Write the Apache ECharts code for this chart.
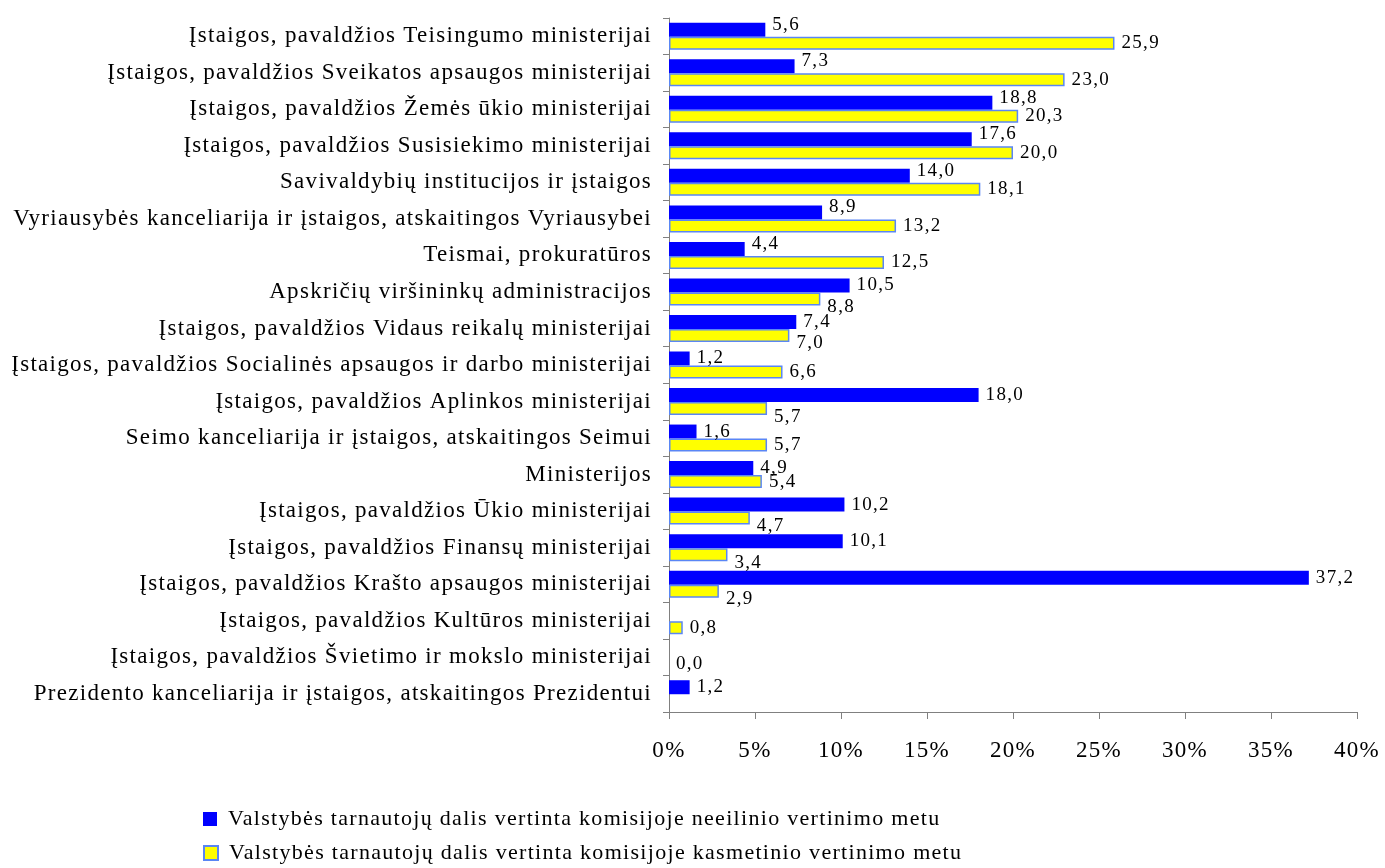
<!DOCTYPE html>
<html>
<head>
<meta charset="utf-8">
<script src="https://cdn.jsdelivr.net/npm/echarts@6/dist/echarts.min.js"></script>
<style>
  html, body { margin: 0; padding: 0; background: #fff; }
  #chart { width: 1385px; height: 868px; }
</style>
</head>
<body>
<div id="chart"></div>
<script>
// categories, top to bottom as in the picture
const categories = [
  'Įstaigos, pavaldžios Teisingumo ministerijai',
  'Įstaigos, pavaldžios Sveikatos apsaugos ministerijai',
  'Įstaigos, pavaldžios Žemės ūkio ministerijai',
  'Įstaigos, pavaldžios Susisiekimo ministerijai',
  'Savivaldybių institucijos ir įstaigos',
  'Vyriausybės kanceliarija ir įstaigos, atskaitingos Vyriausybei',
  'Teismai, prokuratūros',
  'Apskričių viršininkų administracijos',
  'Įstaigos, pavaldžios Vidaus reikalų ministerijai',
  'Įstaigos, pavaldžios Socialinės apsaugos ir darbo ministerijai',
  'Įstaigos, pavaldžios Aplinkos ministerijai',
  'Seimo kanceliarija ir įstaigos, atskaitingos Seimui',
  'Ministerijos',
  'Įstaigos, pavaldžios Ūkio ministerijai',
  'Įstaigos, pavaldžios Finansų ministerijai',
  'Įstaigos, pavaldžios Krašto apsaugos ministerijai',
  'Įstaigos, pavaldžios Kultūros ministerijai',
  'Įstaigos, pavaldžios Švietimo ir mokslo ministerijai',
  'Prezidento kanceliarija ir įstaigos, atskaitingos Prezidentui',
]

// neeilinio vertinimo metu (mėlyna)
const extraordinary = [5.6, 7.3, 18.8, 17.6, 14.0, 8.9, 4.4, 10.5, 7.4, 1.2, 18.0, 1.6, 4.9, 10.2, 10.1, 37.2, null, null, 1.2]
// kasmetinio vertinimo metu (geltona)
const annual = [25.9, 23.0, 20.3, 20.0, 18.1, 13.2, 12.5, 8.8, 7.0, 6.6, 5.7, 5.7, 5.4, 4.7, 3.4, 2.9, 0.8, 0.0, null]

const seriesNames = [
  'Valstybės tarnautojų dalis vertinta komisijoje neeilinio vertinimo metu',
  'Valstybės tarnautojų dalis vertinta komisijoje kasmetinio vertinimo metu',
]

const xTicks = { min: 0, max: 40, interval: 5 }

const FONT = 'Liberation Serif'
const fmt = (p) => p.value == null ? '' : p.value.toFixed(1).replace('.', ',')

// labels nudged like in Excel so they don't sit on the neighbouring bar
const blueData = extraordinary.map((v, i) => {
  const other = annual[i] ?? 0
  const up = v != null && v > 2 && other - v > 1
  return { value: v, label: { offset: [0, up ? -5 : 0] } }
})
const yellowData = annual.map((v, i) => {
  const other = extraordinary[i] ?? 0
  const down = v != null && other > v
  const item = { value: v, label: { offset: [0, down ? 8 : 0] } }
  // a zero bar shows no outline in the original
  if (v === 0) item.itemStyle = { borderWidth: 0 }
  return item
})

const legendBase = {
  orient: 'vertical',
  left: 198,
  itemWidth: 14,
  itemHeight: 14,
  icon: 'rect',
  textStyle: { fontFamily: FONT, fontSize: 22, lineHeight: 26, color: '#000', padding: [0, 0, 0, 6] },
}

const el = document.getElementById('chart')
const chart = echarts.init(el)

chart.setOption({
  animation: false,
  textStyle: { fontFamily: FONT, color: '#000' },
  grid: { left: 669, right: 28, top: 18, bottom: 156 },
  legend: [
    { ...legendBase, top: 801, data: [seriesNames[0]] },
    { ...legendBase, top: 835, data: [seriesNames[1]] },
  ],
  xAxis: {
    type: 'value',
    min: xTicks.min,
    max: xTicks.max,
    interval: xTicks.interval,
    axisLine: { show: true, lineStyle: { color: '#808080', width: 1 } },
    axisTick: { show: true, length: 7, lineStyle: { color: '#808080' } },
    splitLine: { show: false },
    axisLabel: {
      fontFamily: FONT, fontSize: 23, color: '#000', margin: 27,
      formatter: (v) => v + '%',
    },
  },
  yAxis: {
    type: 'category',
    data: categories,
    inverse: true,
    axisLine: { show: true, lineStyle: { color: '#808080', width: 1 } },
    axisTick: { show: true, inside: false, length: 6, lineStyle: { color: '#808080' } },
    axisLabel: { fontFamily: FONT, fontSize: 23, color: '#000', margin: 17 },
  },
  series: [
    {
      name: seriesNames[0],
      type: 'bar',
      data: blueData,
      barWidth: 14,
      barGap: '0%',
      itemStyle: { color: '#0000ff' },
      label: {
        show: true, position: 'right', distance: 7,
        fontFamily: FONT, fontSize: 19, color: '#000', formatter: fmt,
      },
    },
    {
      name: seriesNames[1],
      type: 'bar',
      data: yellowData,
      barWidth: 13,
      barGap: '0%',
      itemStyle: { color: '#ffff00', borderColor: '#5a86f5', borderWidth: 1.5 },
      label: {
        show: true, position: 'right', distance: 7,
        fontFamily: FONT, fontSize: 19, color: '#000', formatter: fmt,
      },
    },
  ],
})

// the original text is a little letter-spaced; canvases exist only after the first paint
el.querySelectorAll('canvas').forEach((cv) => {
  cv.getContext('2d').letterSpacing = '1.3px'
})
chart.getZr().painter.refresh(true)
</script>
</body>
</html>
